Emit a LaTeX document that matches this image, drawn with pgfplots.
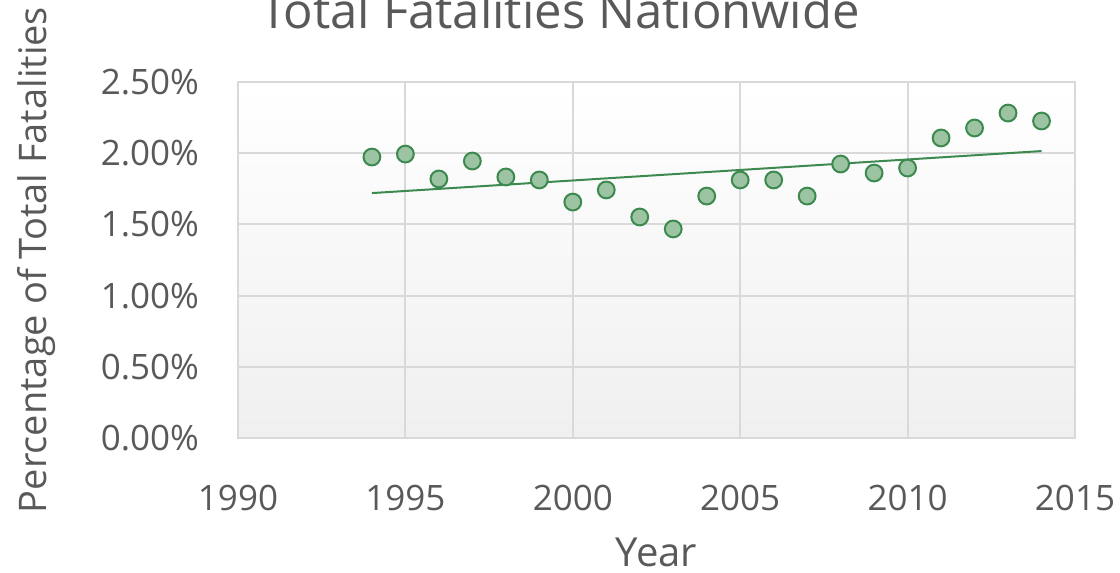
\documentclass[border=0pt]{standalone}
\usepackage{pgfplots}
\pgfplotsset{compat=1.18}
\usepackage{fontspec}
\setmainfont{Open Sans}
\definecolor{txt}{HTML}{595959}
\definecolor{grd}{HTML}{D9D9D9}
\definecolor{mkfill}{HTML}{9CC3A2}
\definecolor{mkdraw}{HTML}{3D8A50}
\definecolor{trend}{HTML}{3D8A50}
\begin{document}
\begin{tikzpicture}
\begin{axis}[
  name=ax,
  width=418.5pt, height=178pt, scale only axis,
  xmin=1990, xmax=2015, ymin=0, ymax=2.5,
  xtick={1990,1995,...,2015}, ytick={0,0.5,...,2.5},
  /pgf/number format/assume math mode=true,
  x tick label style={/pgf/number format/1000 sep={}, font=\fontsize{17.5}{21}\selectfont, text=txt, yshift=-20pt},
  yticklabel={\pgfmathprintnumber[fixed,fixed zerofill,precision=2,assume math mode=true]{\tick}\%},
  y tick label style={font=\fontsize{17.5}{21}\selectfont, text=txt, xshift=-16pt},
  grid=major,
  major grid style={color=grd, line width=1pt},
  axis line style={color=grd, line width=1pt},
  major tick style={draw=none},
  axis background/.style={shade, top color=white, bottom color=black!6},
  xlabel={Year},
  ylabel={Percentage of Total Fatalities},
  every axis x label/.style={at={(rel axis cs:0.5,0)}, anchor=base, yshift=-64pt, font=\fontsize{20}{24}\selectfont, text=txt},
  every axis y label/.style={at={(rel axis cs:0,0.5)}, rotate=90, anchor=base, yshift=95.5pt, font=\fontsize{19}{23}\selectfont, text=txt},
  clip=false,
]
\addplot[trend, line width=1pt] coordinates {(1994,1.72) (2014,2.015)};
\addplot[only marks, mark=*, mark size=4.2pt, mark options={fill=mkfill, draw=mkdraw, line width=1pt}] coordinates {
(1994,1.973) (1995,1.994) (1996,1.819) (1997,1.945) (1998,1.833) (1999,1.812)
(2000,1.657) (2001,1.742) (2002,1.552) (2003,1.468) (2004,1.699) (2005,1.812)
(2006,1.812) (2007,1.699) (2008,1.924) (2009,1.861) (2010,1.896) (2011,2.107)
(2012,2.177) (2013,2.282) (2014,2.226)};
\node[anchor=base, font=\fontsize{24.5}{29}\selectfont, text=txt] at ([xshift=161pt, yshift=27pt]rel axis cs:0,1) {Total Fatalities Nationwide};
\end{axis}
\pgfresetboundingbox
\path[use as bounding box] ([xshift=-119pt, yshift=-67.5pt]ax.south west) rectangle ([xshift=22.5pt, yshift=41pt]ax.north east);
\end{tikzpicture}
\end{document}
